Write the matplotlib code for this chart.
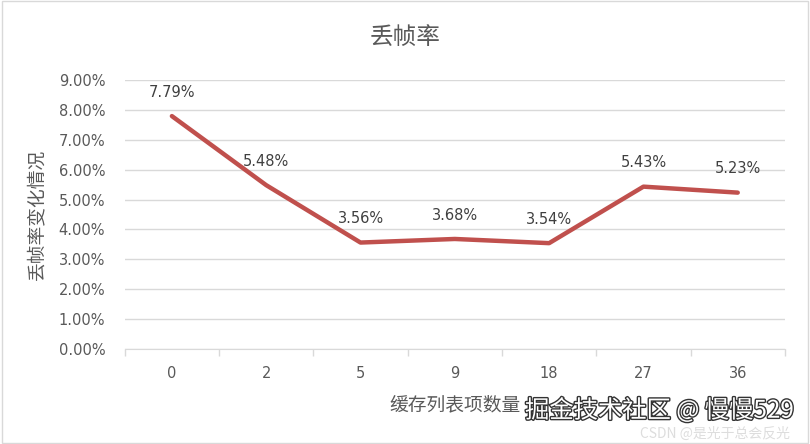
import numpy as np
import matplotlib
matplotlib.use('Agg')
from matplotlib import pyplot as plt
from matplotlib import patheffects as pe
from matplotlib.ticker import FuncFormatter

plt.rcParams['font.family'] = ['Noto Sans CJK SC', 'DejaVu Sans']

cache_sizes = ['0', '2', '5', '9', '18', '27', '36']
drop_rate = [7.79, 5.48, 3.56, 3.68, 3.54, 5.43, 5.23]
point_labels = ['7.79%', '5.48%', '3.56%', '3.68%', '3.54%', '5.43%', '5.23%']

fig = plt.figure(figsize=(8.1, 4.44), dpi=100)
ax = fig.add_axes([0.154, 0.214, 0.815, 0.606])

x = np.arange(len(cache_sizes))
ax.plot(x, drop_rate, color='#C0504D', lw=3.2, solid_capstyle='round', zorder=3)
for xi, yi, lab in zip(x, drop_rate, point_labels):
    ax.text(xi, yi + 0.55, lab, ha='center', va='bottom', fontsize=10.5,
            color='#404040', family=['DejaVu Sans'])

ax.set_xlim(-0.5, len(cache_sizes) - 0.5)
ax.set_ylim(0, 9)
ax.set_yticks(np.arange(0, 10, 1))
ax.yaxis.set_major_formatter(FuncFormatter(lambda v, p: '%.2f%%' % v))
ax.set_xticks(x)
ax.set_xticklabels(cache_sizes)
ax.set_xticks(np.arange(-0.5, len(cache_sizes), 1), minor=True)
ax.tick_params(axis='x', which='major', length=0, pad=12, labelsize=10.5, labelcolor='#595959')
ax.tick_params(axis='x', which='minor', length=5, color='#D9D9D9', width=1)
ax.tick_params(axis='y', length=0, pad=14, labelsize=10.5, labelcolor='#595959')
for lab in ax.get_xticklabels() + ax.get_yticklabels():
    lab.set_family(['DejaVu Sans'])

ax.grid(axis='y', color='#D9D9D9', lw=1)
ax.set_axisbelow(True)
for s in ['top', 'right', 'left']:
    ax.spines[s].set_visible(False)
ax.spines['bottom'].set_color('#D9D9D9')

fig.text(0.5, 0.915, '丢帧率', ha='center', va='center', fontsize=17, color='#595959')
ax.set_ylabel('丢帧率变化情况', fontsize=13.5, color='#595959', labelpad=8)
ax.set_xlabel('缓存列表项数量', fontsize=13.5, color='#595959', labelpad=10)

# watermark
fig.text(0.98, 0.075, '掘金技术社区 @ 慢慢529', ha='right', va='center', fontsize=17.5,
         color='white', path_effects=[pe.withStroke(linewidth=2, foreground='#333333')])
fig.text(0.975, 0.024, 'CSDN @是光于总会反光', ha='right', va='center', fontsize=10,
         color='#DDDDDD')

fig.patches.append(plt.Rectangle((0.002, 0.002), 0.996, 0.996, transform=fig.transFigure,
                                 fill=False, edgecolor='#D9D9D9', lw=1))

plt.savefig('out.png', dpi=100)
